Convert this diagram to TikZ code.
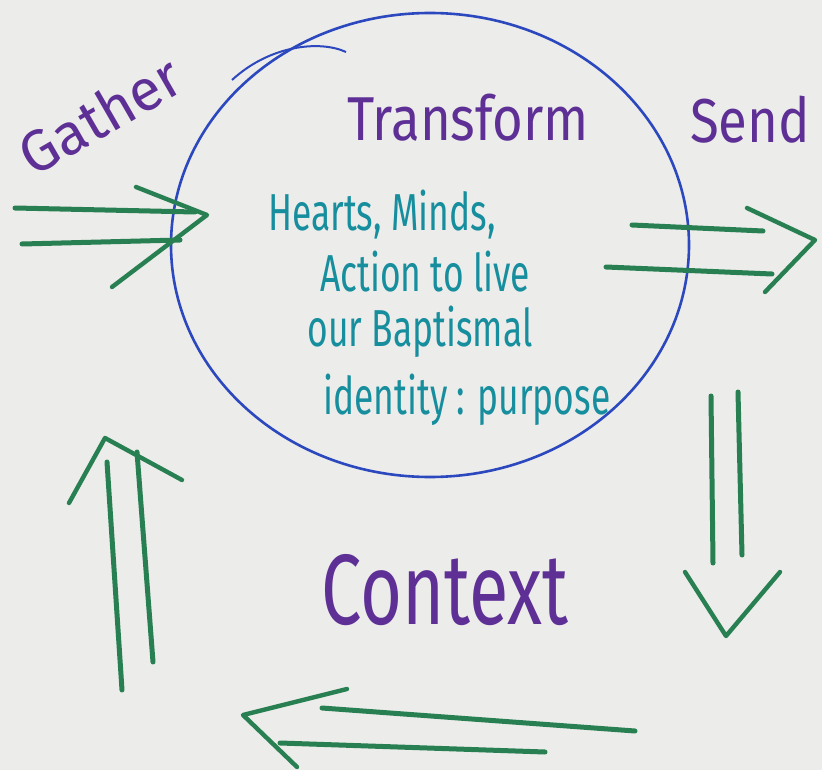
\documentclass[tikz,border=0pt]{standalone}
\usepackage{fontspec}
\setmainfont{Fira Sans}
\usepackage{xcolor}
\usetikzlibrary{shapes.geometric}
\definecolor{paper}{RGB}{236,236,234}
\definecolor{marker}{RGB}{40,128,82}
\definecolor{ink}{RGB}{94,48,150}
\definecolor{teal}{RGB}{22,142,158}
\definecolor{ringblue}{RGB}{44,72,190}
\tikzstyle{shaft} = [draw=marker, line width=5pt, line cap=round]
\tikzstyle{arrowhead} = [draw=marker, line width=4.4pt, line cap=round, line join=round]
\tikzstyle{stage} = [text=ink, font=\fontsize{62}{66}\selectfont, inner sep=0pt]
\tikzstyle{heart} = [text=teal, font=\fontsize{52}{56}\selectfont, inner sep=0pt]

\begin{document}
\begin{tikzpicture}[x=1pt,y=-1pt]
\fill[paper] (0,0) rectangle (822,770);
\useasboundingbox (0,0) rectangle (822,770);

% the circle
\node[draw=ringblue, line width=2.6pt, ellipse, minimum width=518pt, minimum height=464pt,
      inner sep=0pt] (ring) at (430,245) {};
\draw[ringblue, line width=2pt] (232,80) .. controls (270,45) and (320,40) .. (346,52);

% labels
\node[stage, rotate=30, font=\fontsize{58}{62}\selectfont] (gather) at (100,115) {Gather};
\node[stage, xscale=0.85] (transform) at (468,118) {Transform};
\node[stage, xscale=0.85] (send) at (750,120) {Send};
\node[stage, font=\fontsize{100}{104}\selectfont, xscale=0.72] (context) at (445,590) {Context};

\node[heart, xscale=0.68] (hearts) at (382,215) {Hearts, Minds,};
\node[heart, xscale=0.68] (action) at (425,272) {Action to live};
\node[heart, xscale=0.68] (baptism) at (420,332) {our Baptismal};
\node[heart, xscale=0.68] (identity) at (467,400) {identity : purpose};

% gather arrow
\coordinate (g1a) at (15,208);  \coordinate (g1b) at (195,212);
\coordinate (g2a) at (22,244);  \coordinate (g2b) at (180,240);
\draw[shaft] (g1a) -- (g1b);
\draw[shaft] (g2a) -- (g2b);
\draw[arrowhead] (136,187) -- (207,215) -- (112,287);

% send arrow
\coordinate (s1a) at (632,225); \coordinate (s1b) at (763,231);
\coordinate (s2a) at (606,267); \coordinate (s2b) at (772,274);
\draw[shaft] (s1a) -- (s1b);
\draw[shaft] (s2a) -- (s2b);
\draw[arrowhead] (747,208) -- (815,240) -- (765,292);

% down arrow
\coordinate (d1a) at (711,396); \coordinate (d1b) at (713,563);
\coordinate (d2a) at (738,392); \coordinate (d2b) at (742,555);
\draw[shaft] (d1a) -- (d1b);
\draw[shaft] (d2a) -- (d2b);
\draw[arrowhead] (685,572) -- (726,636) -- (780,572);

% back arrow
\coordinate (b1a) at (635,731); \coordinate (b1b) at (322,708);
\coordinate (b2a) at (545,752); \coordinate (b2b) at (280,743);
\draw[shaft] (b1a) -- (b1b);
\draw[shaft] (b2a) -- (b2b);
\draw[arrowhead] (347,689) -- (243,715) -- (297,767);

% up arrow
\coordinate (u1a) at (122,690); \coordinate (u1b) at (107,462);
\coordinate (u2a) at (153,662); \coordinate (u2b) at (137,452);
\draw[shaft] (u1a) -- (u1b);
\draw[shaft] (u2a) -- (u2b);
\draw[arrowhead] (69,503) -- (105,438) -- (182,480);
\end{tikzpicture}
\end{document}
